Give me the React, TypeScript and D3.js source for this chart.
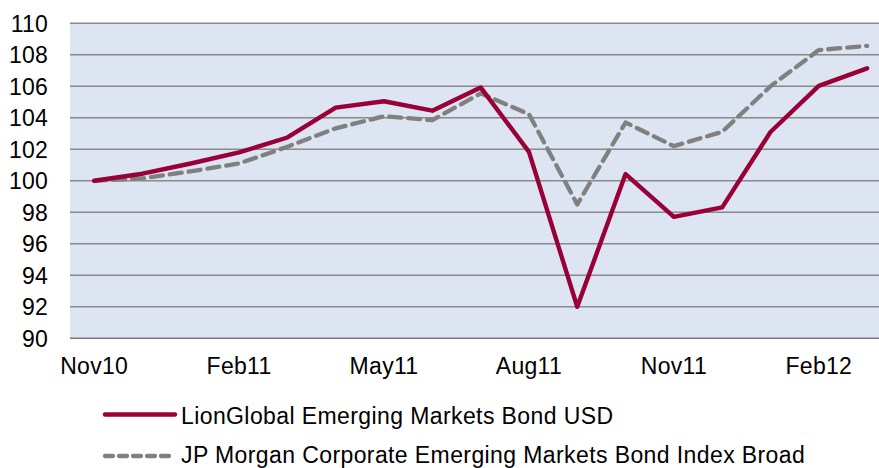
import React from "react";
import * as d3 from "d3";

const months = ["Nov10","Dec10","Jan11","Feb11","Mar11","Apr11","May11","Jun11","Jul11","Aug11","Sep11","Oct11","Nov11","Dec11","Jan12","Feb12","Mar12"];
const tickLabels = ["Nov10","Feb11","May11","Aug11","Nov11","Feb12"];
const lionValues = [100, 100.45, 101.1, 101.8, 102.75, 104.65, 105.05, 104.45, 105.93, 101.84, 92.0, 100.43, 97.71, 98.31, 103.1, 106.03, 107.14];
const jpValues = [100, 100.15, 100.6, 101.1, 102.16, 103.33, 104.1, 103.85, 105.55, 104.23, 98.5, 103.7, 102.2, 103.11, 106.0, 108.3, 108.57];
const yTicks = [90, 92, 94, 96, 98, 100, 102, 104, 106, 108, 110];
const seriesNames = ["LionGlobal Emerging Markets Bond USD", "JP Morgan Corporate Emerging Markets Bond Index Broad"];

const W = 879, H = 468;
const left = 70, right = 879, top = 23.3, bottom = 338.3;
const RED = "#990038";
const GRAY = "#808080";
const FONT = "'Liberation Sans', Arial, sans-serif";

export default function App() {
  const x = d3.scaleBand<string>().domain(months).range([left, left + 48.31 * 17]).padding(0);
  const cx = (m: string) => (x(m) as number) + x.bandwidth() / 2;
  const y = d3.scaleLinear().domain([90, 110]).range([bottom, top]);
  const line = d3.line<number>().x((_, i) => cx(months[i])).y((v) => y(v));

  return (
    <svg width={W} height={H} style={{ position: "fixed", left: 0, top: 0, display: "block", background: "#fff" }}>
      <defs>
        <clipPath id="plotClip">
          <rect x={left} y={0} width={right - left} height={H} />
        </clipPath>
      </defs>
      <rect x={left} y={top} width={right - left} height={bottom - top} fill="#dce5f1" />
      {yTicks.map((t) => (
        <line key={t} x1={left} x2={right} y1={y(t)} y2={y(t)} stroke={t === 90 ? "#7a7a7a" : "#8a8a8a"} strokeWidth={t === 90 ? 1.6 : 1.4} />
      ))}
      {yTicks.map((t) => (
        <text key={"l" + t} x={48} y={y(t) + 8.5} textAnchor="end" fontFamily={FONT} fontSize={23} letterSpacing={0.2} fill="#000">{t}</text>
      ))}
      {tickLabels.map((m) => (
        <text key={m} x={cx(m)} y={373.5} textAnchor="middle" fontFamily={FONT} fontSize={23} letterSpacing={0.3} fill="#000">{m}</text>
      ))}
      <g clipPath="url(#plotClip)">
        <path d={line(jpValues) || ""} fill="none" stroke={GRAY} strokeWidth={4.3} strokeDasharray="12 7" strokeLinecap="round" strokeLinejoin="round" />
        <path d={line(lionValues) || ""} fill="none" stroke={RED} strokeWidth={4.4} strokeLinejoin="round" strokeLinecap="round" />
      </g>
      <line x1={105} x2={175} y1={414.5} y2={414.5} stroke={RED} strokeWidth={4.4} strokeLinecap="round" />
      <text x={181} y={424} fontFamily={FONT} fontSize={23} letterSpacing={0.4} fill="#000">{seriesNames[0]}</text>
      <line x1={105} x2={175} y1={456} y2={456} stroke={GRAY} strokeWidth={4.3} strokeDasharray="8 6" strokeLinecap="round" />
      <text x={181} y={463} fontFamily={FONT} fontSize={23} letterSpacing={0.4} fill="#000">{seriesNames[1]}</text>
    </svg>
  );
}
